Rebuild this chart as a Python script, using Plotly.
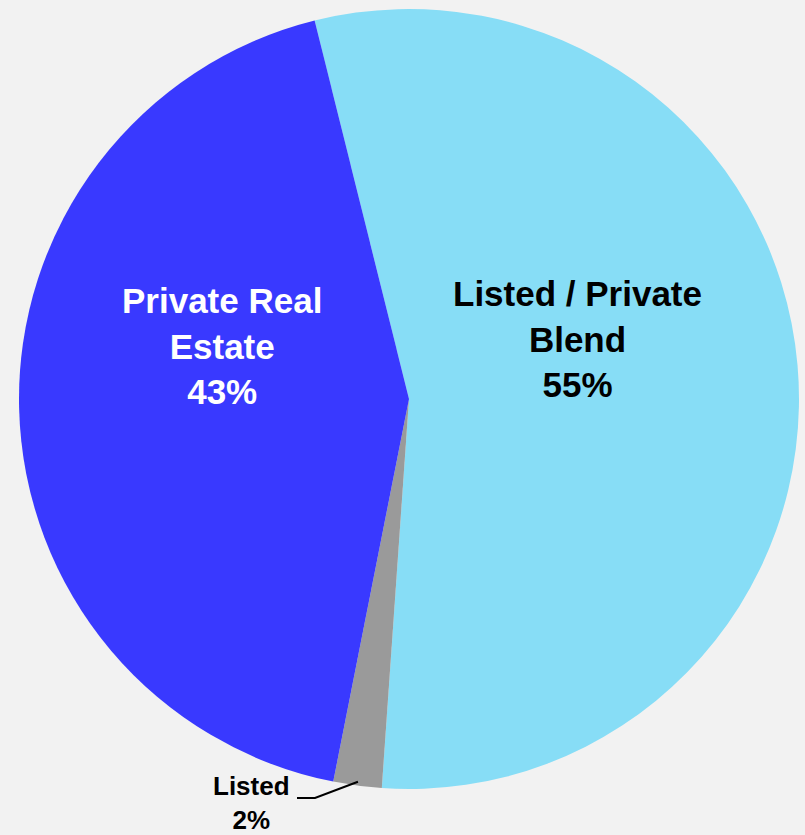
import math
import plotly.graph_objects as go

# Allocation by real estate strategy
labels = ["Listed / Private<br>Blend", "Listed", "Private Real<br>Estate"]
values = [55, 2, 43]
colors = ["#87DDF6", "#9A9A9A", "#3939FF"]
text_colors = ["#000000", "#000000", "#FFFFFF"]

W, H = 805, 835
cx, cy, r = 409, 399, 390          # pie centre and radius in pixels
rotation = -14                     # start angle of the first slice (clockwise from 12 o'clock)


def px_to_paper(x, y):
    return x / W, 1 - y / H


fig = go.Figure(
    go.Pie(
        labels=labels,
        values=values,
        sort=False,
        direction="clockwise",
        rotation=rotation,
        marker=dict(colors=colors, line=dict(width=0)),
        textinfo="none",
        hoverinfo="label+percent",
        showlegend=False,
        domain=dict(
            x=[(cx - r) / W, (cx + r) / W],
            y=[(H - cy - r) / H, (H - cy + r) / H],
        ),
    )
)

# label anchor positions (pixels)
label_pos = [(577, 339), (251, 803), (222, 346)]
label_size = [35, 26, 35]

annotations = []
for lab, val, tc, (lx, ly), fs in zip(labels, values, text_colors, label_pos, label_size):
    ax, ay = px_to_paper(lx, ly)
    annotations.append(
        dict(
            x=ax, y=ay, xref="paper", yref="paper",
            text=f"<b>{lab}<br>{val}%</b>",
            showarrow=False,
            font=dict(family="Liberation Sans, Arial, sans-serif", size=fs, color=tc),
            xanchor="center", yanchor="middle", align="center",
        )
    )

# leader line for the small "Listed" slice, ending at its mid-angle on the rim
total = sum(values)
start = rotation + 360 * values[0] / total
mid = math.radians(start + 360 * values[1] / total / 2)
ex = cx + 0.99 * r * math.sin(mid)
ey = cy - 0.99 * r * math.cos(mid)
p0 = px_to_paper(297, 798)
p1 = px_to_paper(315, 798)
p2 = px_to_paper(ex, ey)
shapes = [
    dict(
        type="path", xref="paper", yref="paper",
        path=f"M {p0[0]} {p0[1]} L {p1[0]} {p1[1]} L {p2[0]} {p2[1]}",
        line=dict(color="#000000", width=2),
    )
]

fig.update_layout(
    width=W, height=H,
    margin=dict(l=0, r=0, t=0, b=0),
    paper_bgcolor="#F2F2F2",
    plot_bgcolor="#F2F2F2",
    annotations=annotations,
    shapes=shapes,
)

fig.write_html("out.html")
